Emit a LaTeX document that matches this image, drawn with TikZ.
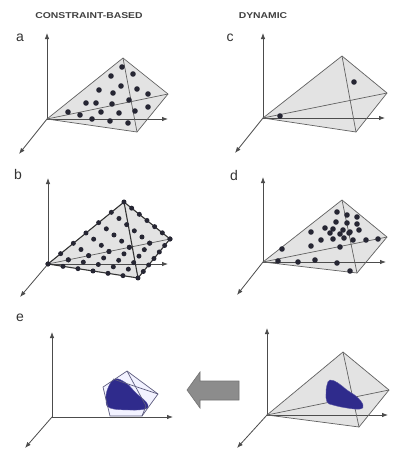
\documentclass[tikz,border=0pt]{standalone}
\usepackage{fontspec}
\setmainfont{Liberation Sans}
\usetikzlibrary{arrows.meta,calc}
\definecolor{blobblue}{HTML}{2F2B8C}
\definecolor{pyrfill}{HTML}{E3E3E3}
\definecolor{dotc}{HTML}{262633}
\tikzset{
  axis/.style={draw=black!70, line width=0.8pt, -{Latex[length=6pt,width=4.5pt]}},
  pedge/.style={draw=black!62, line width=0.7pt},
  pfill/.style={fill=pyrfill},
  dotm/.style={fill=dotc},
  title/.style={font=\fontsize{8.5}{10}\selectfont\bfseries, text=black!75, xscale=1.22},
  letter/.style={font=\fontsize{14}{16}\selectfont, text=black!80},
  blob/.style={fill=blobblue, draw=blobblue!80, line width=0.4pt},
}
\begin{document}
\begin{tikzpicture}[x=1pt,y=-1pt]
\useasboundingbox (0,0) rectangle (402,453);
\fill[white] (0,0) rectangle (402,453);

% ---------- titles and letters
\node[title] (t1) at (89,16) {CONSTRAINT-BASED};
\node[title] (t2) at (263,16) {DYNAMIC};
\node[letter] (la) at (20,38) {a};
\node[letter] (lc) at (230,38) {c};
\node[letter] (lb) at (18,174) {b};
\node[letter] (ld) at (234,175) {d};
\node[letter] (le) at (20,318) {e};

% ---------- panel a
\coordinate (aO) at (47,119); \coordinate (aY) at (47,33);
\coordinate (aX) at (168,119); \coordinate (aZ) at (19,154);
\coordinate (aA) at (123,58); \coordinate (aR) at (168,94); \coordinate (aB) at (137,132);
\fill[pfill] (aO) -- (aA) -- (aR) -- (aB) -- cycle;
\draw[axis] (aO) -- (aY);
\draw[axis] (aO) -- (aX);
\draw[axis] (aO) -- (aZ);
\draw[pedge] (aO) -- (aA) -- (aR) -- (aB) -- cycle;
\draw[pedge] (aO) -- (aR);
\draw[pedge] (aA) -- (aB);
\foreach \p in {(122,67),(133,74),(111,76),(121,86),(137,89),(99,90),(113,93),(148,94),
  (129,100),(86,103),(96,103),(112,104),(148,107),(68,112),(80,115),(101,112),(119,113),
  (135,111),(92,119),(110,121),(128,123)}
  \fill[dotm] \p circle (2.8);

% ---------- panel c
\coordinate (cO) at (263,118); \coordinate (cY) at (263,33);
\coordinate (cX) at (385,118); \coordinate (cZ) at (235,153);
\coordinate (cA) at (342,56); \coordinate (cR) at (387,93); \coordinate (cB) at (356,132);
\fill[pfill] (cO) -- (cA) -- (cR) -- (cB) -- cycle;
\draw[axis] (cO) -- (cY);
\draw[axis] (cO) -- (cX);
\draw[axis] (cO) -- (cZ);
\draw[pedge] (cO) -- (cA) -- (cR) -- (cB) -- cycle;
\draw[pedge] (cO) -- (cR);
\draw[pedge] (cA) -- (cB);
\fill[dotm] (354,82) circle (2.8);
\fill[dotm] (280,116) circle (2.8);

% ---------- panel b
\coordinate (bO) at (48,264); \coordinate (bY) at (48,178);
\coordinate (bX) at (168,264); \coordinate (bZ) at (20,297);
\coordinate (bA) at (124,202); \coordinate (bR) at (170,239); \coordinate (bB) at (138,278);
\fill[pfill] (bO) -- (bA) -- (bR) -- (bB) -- cycle;
\draw[axis] (bO) -- (bY);
\draw[axis] (bO) -- (bX);
\draw[axis] (bO) -- (bZ);
\draw[pedge, draw=black!80, line width=1.1pt] (bO) -- (bA) -- (bR) -- (bB) -- cycle;
\draw[pedge] (bO) -- (bR);
\draw[pedge, draw=black!80, line width=1.1pt] (bA) -- (bB);
\foreach \i in {0,...,6}{
  \foreach \j in {0,...,6}{
    \pgfmathtruncatemacro\k{6-\i-\j}
    \ifnum\k>-1
      \fill[dotm] (barycentric cs:bO=\k,bA=\i,bR=\j) circle (2.5);
      \fill[dotm] (barycentric cs:bO=\k,bR=\i,bB=\j) circle (2.5);
    \fi
  }
}

% ---------- panel d
\coordinate (dO) at (263,262); \coordinate (dY) at (263,177);
\coordinate (dX) at (386,262); \coordinate (dZ) at (237,295);
\coordinate (dA) at (342,200); \coordinate (dR) at (387,237); \coordinate (dB) at (357,273);
\fill[pfill] (dO) -- (dA) -- (dR) -- (dB) -- cycle;
\draw[axis] (dO) -- (dY);
\draw[axis] (dO) -- (dX);
\draw[axis] (dO) -- (dZ);
\draw[pedge] (dO) -- (dA) -- (dR) -- (dB) -- cycle;
\draw[pedge] (dO) -- (dR);
\draw[pedge] (dA) -- (dB);
\foreach \p in {(337,212),(347,215),(357,217),(336,222),(347,223),(357,224),(325,228),
  (333,229),(343,230),(350,232),(359,230),(311,232),(330,233),(340,234),(349,233),
  (321,240),(333,239),(344,238),(353,240),(366,240),(378,239),(311,246),(340,247),
  (282,249),(278,261),(298,262),(315,260),(337,263),(350,271)}
  \fill[dotm] \p circle (2.8);

% ---------- panel e
\coordinate (eO) at (52,417); \coordinate (eY) at (52,332);
\coordinate (eX) at (173,417); \coordinate (eZ) at (25,448);
\coordinate (eT) at (127,371); \coordinate (eL) at (103,387); \coordinate (eBL) at (110,416);
\coordinate (eBR) at (142,416); \coordinate (eR) at (158,394); \coordinate (eP) at (113,379);
\coordinate (eQ) at (146,406);
\fill[fill=blue!5] (eT) -- (eL) -- (eBL) -- (eBR) -- (eR) -- cycle;
\draw[axis] (eO) -- (eY);
\draw[axis] (eO) -- (eX);
\draw[axis] (eO) -- (eZ);
\fill[blob] plot[smooth cycle, tension=0.7] coordinates {(115,379) (126,383) (136,393)
  (143,399) (148,405) (145,409) (130,410) (110,408) (106,400) (108,388)};
\draw[pedge, draw=blobblue!50!black!70] (eT) -- (eL) -- (eBL) -- (eBR) -- (eR) -- cycle;
\draw[pedge, draw=blobblue!50!black!70] (eP) -- (eR);
\draw[pedge, draw=blobblue!50!black!70] (eT) -- (eQ) -- (eBR);

% ---------- big gray arrow
\coordinate (g1) at (187,390); \coordinate (g2) at (200,372); \coordinate (g3) at (200,381);
\coordinate (g4) at (239,381); \coordinate (g5) at (239,400); \coordinate (g6) at (200,400);
\coordinate (g7) at (200,408);
\filldraw[fill=black!45, draw=black!55, line width=0.6pt]
  (g1) -- (g2) -- (g3) -- (g4) -- (g5) -- (g6) -- (g7) -- cycle;

% ---------- panel f
\coordinate (fO) at (267,415); \coordinate (fY) at (267,328);
\coordinate (fX) at (388,415); \coordinate (fZ) at (237,448);
\coordinate (fA) at (343,352); \coordinate (fR) at (389,390); \coordinate (fB) at (359,427);
\fill[pfill] (fO) -- (fA) -- (fR) -- (fB) -- cycle;
\draw[axis] (fO) -- (fY);
\draw[axis] (fO) -- (fX);
\draw[axis] (fO) -- (fZ);
\draw[pedge] (fO) -- (fA) -- (fR) -- (fB) -- cycle;
\draw[pedge] (fO) -- (fR);
\draw[pedge] (fA) -- (fB);
\fill[blob] plot[smooth cycle, tension=0.7] coordinates {(330,380) (338,383) (347,390)
  (357,397) (363,405) (360,409) (347,408) (333,405) (327,402) (326,393) (327,385)};
\end{tikzpicture}
\end{document}
